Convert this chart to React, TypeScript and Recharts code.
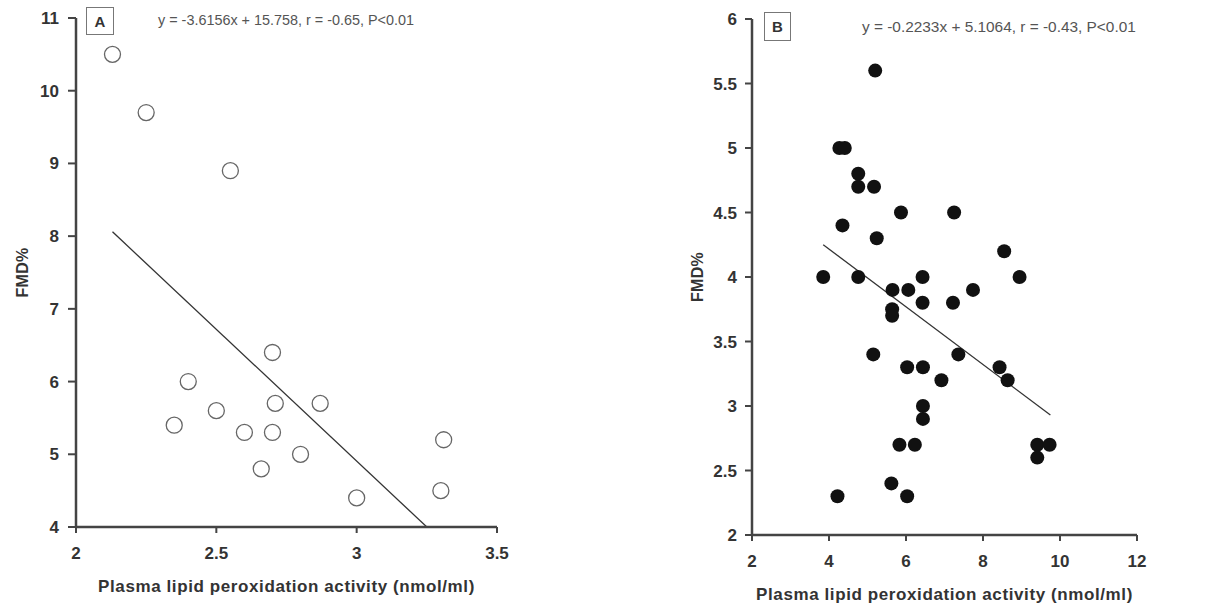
import React from "react";
import {
  ScatterChart,
  Scatter,
  XAxis,
  YAxis,
  ReferenceLine,
  Label,
} from "recharts";

// Panel A: plasma lipid peroxidation (x) vs FMD% (y)
const panelAX = [2.13, 2.25, 2.55, 2.7, 2.4, 2.71, 2.87, 2.5, 2.35, 2.6, 2.7, 3.31, 2.8, 2.66, 3.3, 3.0];
const panelAY = [10.5, 9.7, 8.9, 6.4, 6.0, 5.7, 5.7, 5.6, 5.4, 5.3, 5.3, 5.2, 5.0, 4.8, 4.5, 4.4];
const panelALine = [
  { x: 2.13, y: 8.06 },
  { x: 3.25, y: 4.0 },
];
const panelAXTicks = [2, 2.5, 3, 3.5];
const panelAYTicks = [4, 5, 6, 7, 8, 9, 10, 11];

// Panel B
const panelBX = [
  5.2, 4.27, 4.41, 4.76, 4.76, 5.17, 5.87, 7.25, 4.35, 5.24, 8.55, 3.85, 4.76, 6.43, 8.95, 5.65, 6.06, 7.74, 6.43,
  7.22, 5.64, 5.64, 5.15, 7.36, 6.03, 6.44, 8.43, 6.92, 8.64, 6.44, 6.44, 5.83, 6.23, 9.41, 9.73, 9.41, 5.62, 4.22,
  6.03,
];
const panelBY = [
  5.6, 5.0, 5.0, 4.8, 4.7, 4.7, 4.5, 4.5, 4.4, 4.3, 4.2, 4.0, 4.0, 4.0, 4.0, 3.9, 3.9, 3.9, 3.8, 3.8, 3.75, 3.7, 3.4,
  3.4, 3.3, 3.3, 3.3, 3.2, 3.2, 3.0, 2.9, 2.7, 2.7, 2.7, 2.7, 2.6, 2.4, 2.3, 2.3,
];
const panelBLine = [
  { x: 3.85, y: 4.25 },
  { x: 9.75, y: 2.93 },
];
const panelBXTicks = [2, 4, 6, 8, 10, 12];
const panelBYTicks = [2, 2.5, 3, 3.5, 4, 4.5, 5, 5.5, 6];

const xTitle = "Plasma lipid peroxidation activity (nmol/ml)";
const yTitle = "FMD%";
const eqA = "y = -3.6156x + 15.758, r = -0.65, P<0.01";
const eqB = "y = -0.2233x + 5.1064, r = -0.43, P<0.01";

const font = "'Liberation Sans', Arial, sans-serif";
const axisColor = "#444";
const tickStyle = { fontSize: 17, fontWeight: 700, fill: "#333", fontFamily: font };
const titleStyle = { fontSize: 17, fontWeight: 700, fill: "#333", fontFamily: font, letterSpacing: 0.6 };

const zip = (xs: number[], ys: number[]) => xs.map((x, i) => ({ x, y: ys[i] }));

const openCircle = (p: any) => (
  <circle cx={p.cx} cy={p.cy} r={8} fill="#fff" stroke="#666" strokeWidth={1.3} />
);
const filledCircle = (p: any) => <circle cx={p.cx} cy={p.cy} r={7} fill="#111" />;

function PanelBox({ letter, left, top, w, h }: { letter: string; left: number; top: number; w: number; h: number }) {
  return (
    <div
      style={{
        position: "absolute",
        left,
        top,
        width: w,
        height: h,
        boxSizing: "border-box",
        border: "1px solid #777",
        fontFamily: font,
        fontWeight: 700,
        fontSize: 15,
        color: "#333",
        display: "flex",
        alignItems: "center",
        justifyContent: "center",
      }}
    >
      {letter}
    </div>
  );
}

function Equation({ text, left, top, size }: { text: string; left: number; top: number; size: number }) {
  return (
    <div
      style={{
        position: "absolute",
        left,
        top,
        fontFamily: font,
        fontSize: size,
        color: "#555",
        whiteSpace: "nowrap",
        lineHeight: "16px",
      }}
    >
      {text}
    </div>
  );
}

export default function App() {
  const dataA = zip(panelAX, panelAY);
  const dataB = zip(panelBX, panelBY);

  return (
    <div style={{ position: "absolute", left: 0, top: 0, width: 1211, height: 609, background: "#fff" }}>
      <div style={{ position: "absolute", left: 0, top: 0 }}>
        <ScatterChart width={560} height={609} margin={{ top: 18, right: 63, bottom: 12, left: 10 }}>
          <XAxis
            type="number"
            dataKey="x"
            domain={[2, 3.5]}
            ticks={panelAXTicks}
            height={70}
            tick={tickStyle}
            tickSize={6}
            tickMargin={14}
            axisLine={{ stroke: axisColor, strokeWidth: 2.5 }}
            tickLine={{ stroke: axisColor, strokeWidth: 2 }}
          >
            <Label value={xTitle} position="insideBottom" offset={5} style={titleStyle} />
          </XAxis>
          <YAxis
            type="number"
            dataKey="y"
            domain={[4, 11]}
            ticks={panelAYTicks}
            width={66}
            tick={tickStyle}
            tickSize={8}
            tickMargin={9}
            axisLine={{ stroke: axisColor, strokeWidth: 2.5 }}
            tickLine={{ stroke: axisColor, strokeWidth: 2 }}
          >
            <Label
              value={yTitle}
              position="insideLeft"
              angle={-90}
              offset={12}
              style={{ ...titleStyle, fontSize: 16, letterSpacing: 0.3, textAnchor: "middle" }}
            />
          </YAxis>
          <ReferenceLine segment={panelALine} stroke="#333" strokeWidth={1.3} />
          <Scatter data={dataA} shape={openCircle} isAnimationActive={false} />
        </ScatterChart>
      </div>
      <PanelBox letter="A" left={86} top={7} w={28} h={28} />
      <Equation text={eqA} left={158} top={12} size={14.4} />

      <div style={{ position: "absolute", left: 620, top: 0 }}>
        <ScatterChart width={591} height={609} margin={{ top: 19, right: 74, bottom: 4, left: 60 }}>
          <XAxis
            type="number"
            dataKey="x"
            domain={[2, 12]}
            ticks={panelBXTicks}
            height={70}
            tick={tickStyle}
            tickSize={6}
            tickMargin={14}
            axisLine={{ stroke: axisColor, strokeWidth: 2.5 }}
            tickLine={{ stroke: axisColor, strokeWidth: 2 }}
          >
            <Label value={xTitle} position="insideBottom" offset={5} style={titleStyle} />
          </XAxis>
          <YAxis
            type="number"
            dataKey="y"
            domain={[2, 6]}
            ticks={panelBYTicks}
            width={72}
            tick={tickStyle}
            tickSize={7}
            tickMargin={8}
            axisLine={{ stroke: axisColor, strokeWidth: 2.5 }}
            tickLine={{ stroke: axisColor, strokeWidth: 2 }}
          >
            <Label
              value={yTitle}
              position="insideLeft"
              angle={-90}
              offset={17}
              style={{ ...titleStyle, fontSize: 16, letterSpacing: 0.3, textAnchor: "middle" }}
            />
          </YAxis>
          <ReferenceLine segment={panelBLine} stroke="#333" strokeWidth={1.3} />
          <Scatter data={dataB} shape={filledCircle} isAnimationActive={false} />
        </ScatterChart>
      </div>
      <PanelBox letter="B" left={764} top={12} w={27} h={29} />
      <Equation text={eqB} left={862} top={19} size={15.4} />
    </div>
  );
}
